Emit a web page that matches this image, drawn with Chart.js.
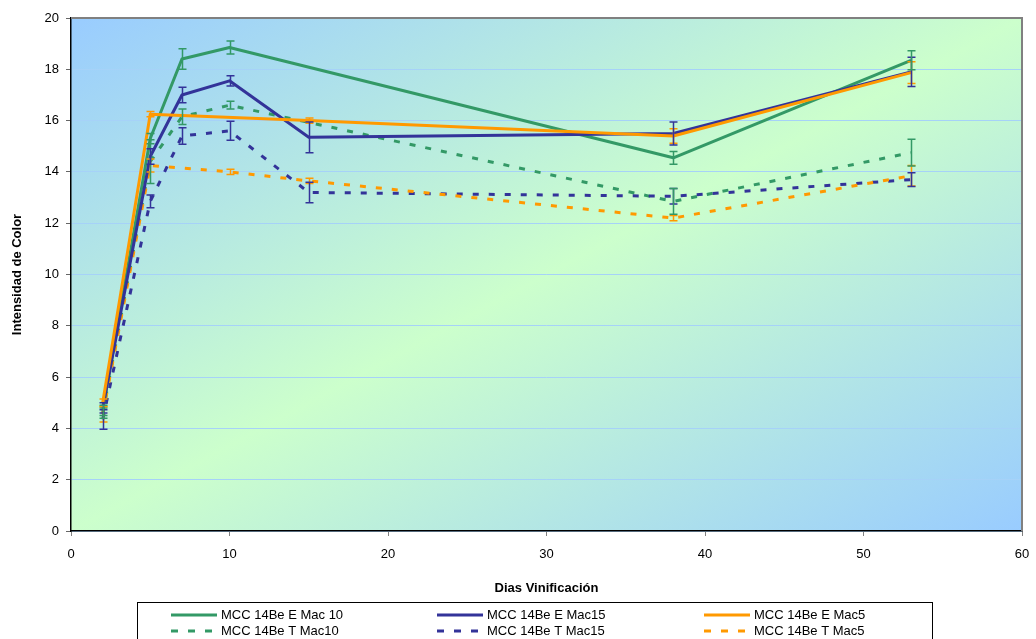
<!DOCTYPE html>
<html>
<head>
<meta charset="utf-8">
<script src="https://cdn.jsdelivr.net/npm/chart.js@4"></script>
<style>
  html, body { margin: 0; padding: 0; background: #fff; }
  #wrap { width: 1036px; height: 639px; position: relative; }
</style>
</head>
<body>
<div id="wrap"><canvas id="chart" width="1036" height="639"></canvas></div>
<script>
// sampling days
const days = [2, 5, 7, 10, 15, 38, 53];

const seriesNames = [
  'MCC 14Be E Mac 10', 'MCC 14Be E Mac15', 'MCC 14Be E Mac5',
  'MCC 14Be T Mac10', 'MCC 14Be T Mac15', 'MCC 14Be T Mac5'
];

// colour intensity, mean per day (null = not measured)
const eMac10 = [4.7, 15.3, 18.4, 18.85, null, 14.55, 18.35];
const eMac15 = [4.8, 14.6, 17.0, 17.55, 15.35, 15.5, 17.9];
const eMac5  = [5.0, 16.25, null, null, 16.0, 15.4, 17.87];
const tMac10 = [4.6, 14.4, 16.15, 16.6, null, 12.85, 14.75];
const tMac15 = [4.35, 12.85, 15.4, 15.6, 13.2, 13.05, 13.7];
const tMac5  = [4.55, 14.25, null, 14.0, 13.65, 12.2, 13.85];

// standard deviation per day
const eMac10Err = [0.2, 0.2, 0.4, 0.25, null, 0.25, 0.37];
const eMac15Err = [0.2, 0.3, 0.3, 0.2, 0.6, 0.45, 0.57];
const eMac5Err  = [0.15, 0.1, null, null, 0.1, 0.28, 0.42];
const tMac10Err = [0.2, 0.85, 0.3, 0.15, null, 0.5, 0.52];
const tMac15Err = [0.38, 0.25, 0.32, 0.37, 0.4, 0.3, 0.27];
const tMac5Err  = [0.3, 0.25, null, 0.1, 0.1, 0.1, 0.4];

const xTicks = [0, 10, 20, 30, 40, 50, 60];
const yTicks = [0, 2, 4, 6, 8, 10, 12, 14, 16, 18, 20];

const GREEN = '#339966', BLUE = '#333399', ORANGE = '#FF9900';
const DASH = [6, 10];

function series(label, values, errors, color, dashed) {
  return {
    label,
    data: days.map((d, i) => ({ x: d, y: values[i] })),
    errors,
    borderColor: color,
    backgroundColor: color,
    borderWidth: 3,
    borderDash: dashed ? DASH : [],
    borderJoinStyle: 'round',
    pointRadius: 0,
    pointHoverRadius: 0,
    tension: 0,
    spanGaps: true,
    fill: false
  };
}

const datasets = [
  series(seriesNames[0], eMac10, eMac10Err, GREEN, false),
  series(seriesNames[1], eMac15, eMac15Err, BLUE, false),
  series(seriesNames[2], eMac5, eMac5Err, ORANGE, false),
  series(seriesNames[3], tMac10, tMac10Err, GREEN, true),
  series(seriesNames[4], tMac15, tMac15Err, BLUE, true),
  series(seriesNames[5], tMac5, tMac5Err, ORANGE, true)
];
// solid lines sit on top of the dashed ones
datasets.forEach((d, i) => { d.order = [2, 1, 0, 5, 4, 3][i]; });

// gradient plot area, grey frame on top/right
const plotBackground = {
  id: 'plotBackground',
  beforeDraw(chart) {
    const { ctx, chartArea: a } = chart;
    ctx.save();
    ctx.fillStyle = '#fff';
    ctx.fillRect(0, 0, chart.width, chart.height);
    const w = a.right - a.left, h = a.bottom - a.top;
    const s = 2 * w * h / (w * w + h * h);
    const g = ctx.createLinearGradient(a.left, a.top, a.left + s * h, a.top + s * w);
    g.addColorStop(0, '#99CCFF');
    g.addColorStop(0.5, '#CCFFCC');
    g.addColorStop(1, '#99CCFF');
    ctx.fillStyle = g;
    ctx.fillRect(a.left, a.top, w, h);
    ctx.restore();
  },
  afterDatasetsDraw(chart) {
    const { ctx, chartArea: a } = chart;
    ctx.save();
    ctx.strokeStyle = '#808080';
    ctx.lineWidth = 2;
    ctx.beginPath();
    ctx.moveTo(a.left, a.top);
    ctx.lineTo(a.right, a.top);
    ctx.lineTo(a.right, a.bottom);
    ctx.stroke();
    ctx.restore();
  }
};

// vertical error bars with caps
const errorBars = {
  id: 'errorBars',
  afterDatasetsDraw(chart) {
    const { ctx } = chart;
    const xs = chart.scales.x, ys = chart.scales.y;
    ctx.save();
    ctx.lineWidth = 1.5;
    ctx.setLineDash([]);
    chart.data.datasets.slice().reverse().forEach(ds => {
      ctx.strokeStyle = ds.borderColor;
      ds.data.forEach((p, i) => {
        const e = ds.errors[i];
        if (p.y == null || e == null) return;
        const px = Math.round(xs.getPixelForValue(p.x)) + 0.5;
        const top = ys.getPixelForValue(p.y + e);
        const bot = ys.getPixelForValue(p.y - e);
        ctx.beginPath();
        ctx.moveTo(px, top); ctx.lineTo(px, bot);
        ctx.moveTo(px - 4, top); ctx.lineTo(px + 4, top);
        ctx.moveTo(px - 4, bot); ctx.lineTo(px + 4, bot);
        ctx.stroke();
      });
    });
    ctx.restore();
  }
};

// boxed legend, three columns by two rows
const boxLegend = {
  id: 'boxLegend',
  afterDraw(chart) {
    const { ctx } = chart;
    const colX = [171, 437, 704];
    const rowY = [615, 631];
    ctx.save();
    ctx.strokeStyle = '#000';
    ctx.lineWidth = 1;
    ctx.strokeRect(137.5, 602.5, 795, 50);
    ctx.font = '13px "Liberation Sans", Arial, sans-serif';
    ctx.fillStyle = '#000';
    ctx.textBaseline = 'middle';
    chart.data.datasets.forEach((ds, i) => {
      const x = colX[i % 3], y = rowY[Math.floor(i / 3)];
      ctx.strokeStyle = ds.borderColor;
      ctx.lineWidth = 3;
      ctx.setLineDash(ds.borderDash.length ? [7, 10] : []);
      ctx.beginPath();
      ctx.moveTo(x, y); ctx.lineTo(x + 46, y);
      ctx.stroke();
      ctx.setLineDash([]);
      ctx.fillText(ds.label, x + 50, y);
    });
    ctx.restore();
  }
};

Chart.defaults.font.family = '"Liberation Sans", Arial, sans-serif';
Chart.defaults.font.size = 13;
Chart.defaults.color = '#000';

new Chart(document.getElementById('chart'), {
  type: 'line',
  data: { datasets },
  plugins: [plotBackground, errorBars, boxLegend],
  options: {
    responsive: false,
    animation: false,
    events: [],
    layout: { padding: { top: 18, right: 14, bottom: 39, left: 0 } },
    plugins: { legend: { display: false }, tooltip: { enabled: false } },
    scales: {
      x: {
        type: 'linear',
        min: 0, max: 60,
        afterFit: s => { s.height = 69; s.paddingLeft = 0; s.paddingRight = 0; },
        afterBuildTicks: s => { s.ticks = xTicks.map(v => ({ value: v })); },
        ticks: { padding: 11, maxRotation: 0 },
        grid: { drawOnChartArea: false, tickLength: 5, tickColor: '#808080', tickWidth: 1 },
        border: { color: '#000', width: 1.5 },
        title: {
          display: true, text: 'Dias Vinificación',
          font: { weight: 'bold', size: 13 },
          padding: { top: 0, bottom: 4 }
        }
      },
      y: {
        min: 0, max: 20,
        afterFit: s => { s.width = 71; s.paddingTop = 0; s.paddingBottom = 0; },
        afterBuildTicks: s => { s.ticks = yTicks.map(v => ({ value: v })); },
        ticks: { padding: 7 },
        grid: { color: '#A6D2F8', lineWidth: 1, tickLength: 5, tickColor: '#666', tickWidth: 1 },
        border: { color: '#000', width: 1.5 },
        title: {
          display: true, text: 'Intensidad de Color',
          font: { weight: 'bold', size: 13 },
          padding: { top: 10, bottom: 0 }
        }
      }
    }
  }
});
</script>
</body>
</html>
